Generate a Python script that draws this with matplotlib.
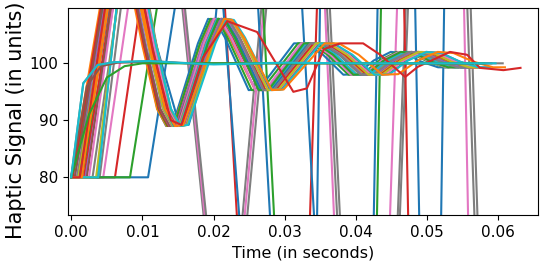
import matplotlib
matplotlib.use("Agg")
import matplotlib.pyplot as plt

# ---------------- data ----------------
# centre path of the main bundle after it leaves 80 (time s, value)
base_t = [0.0065, 0.0085, 0.0110, 0.0130, 0.0143, 0.0153, 0.0190, 0.0205, 0.0215,
          0.0230, 0.0265, 0.0280, 0.0300, 0.0332, 0.0350, 0.0375, 0.0405, 0.0425,
          0.0450, 0.0475, 0.0495, 0.0520, 0.0545, 0.0560]
base_v = [120.0, 119.0, 103.0, 92.0, 89.0, 89.2, 103.5, 107.8, 107.6,
          104.5, 95.3, 95.4, 98.5, 103.5, 103.5, 101.5, 98.0, 98.1,
          100.5, 102.0, 101.8, 100.3, 99.3, 99.3]
PIVOT = 0.0150  # time about which each bundle line is stretched
# time each bundle line leaves 80, its time shift and its time stretch
bundle_leave = [0.0000, 0.0000, 0.0002, 0.0002, 0.0005, 0.0005, 0.0008, 0.0008,
                0.0010, 0.0012, 0.0012, 0.0015, 0.0015, 0.0018, 0.0020, 0.0022,
                0.0025, 0.0030, 0.0035, 0.0038, 0.0015]
bundle_shift = [-0.0010, -0.0009, -0.0008, -0.0006, -0.0005, -0.0004, -0.0002, -0.0001,
                0.0000, 0.0001, 0.0002, 0.0003, 0.0004, 0.0005, 0.0006, 0.0007,
                0.0008, 0.0009, 0.0010, 0.0011, 0.0004]
bundle_stretch = [-0.05, 0.02, -0.03, 0.04, -0.01, 0.05, -0.04, 0.01, 0.03, -0.02,
                  0.00, 0.04, -0.05, 0.02, -0.01, 0.05, 0.03, -0.03, 0.01, 0.04, 0.11]
bundle_colors = ["tab:blue", "tab:orange", "tab:green", "tab:red", "tab:purple",
                 "tab:brown", "tab:pink", "tab:gray", "tab:olive", "tab:cyan",
                 "tab:blue", "tab:orange", "tab:green", "tab:red", "tab:purple",
                 "tab:brown", "tab:pink", "tab:gray", "tab:olive", "tab:cyan",
                 "tab:orange"]

# lines that settle directly to 100
settle_t = [[0.0, 0.0017, 0.0037, 0.0060, 0.0110, 0.0150, 0.0200, 0.0300, 0.0400, 0.0500, 0.0606],
            [0.0, 0.0022, 0.0042, 0.0065, 0.0120, 0.0160, 0.0220, 0.0320, 0.0420, 0.0520, 0.0590],
            [0.0, 0.0025, 0.0050, 0.0075, 0.0100, 0.0200, 0.0300, 0.0400, 0.0500, 0.0580],
            [0.0, 0.0017, 0.0037, 0.0060, 0.0110, 0.0150, 0.0200, 0.0300, 0.0400, 0.0500, 0.0596]]
settle_v = [[80, 96.5, 99.7, 100.2, 100.4, 100.1, 99.9, 100.1, 100.0, 100.0, 100.0],
            [80, 96.0, 99.5, 100.1, 100.3, 100.0, 100.0, 100.0, 100.0, 100.0, 100.0],
            [80, 91.0, 97.5, 99.5, 100.0, 100.0, 100.0, 100.0, 100.0, 100.0],
            [80, 96.5, 99.7, 100.2, 100.4, 100.1, 99.8, 100.1, 100.0, 100.0, 100.0]]
settle_colors = ["tab:gray", "tab:brown", "tab:green", "tab:cyan"]

# lagging slow red line
lag_t = [0.0, 0.0012, 0.0060, 0.0090, 0.0115, 0.0140, 0.0155, 0.0185, 0.0219, 0.0261,
         0.0296, 0.0312, 0.0331, 0.0355, 0.0378, 0.0410, 0.0434, 0.0469, 0.0487, 0.0532,
         0.0556, 0.0574, 0.0607, 0.0631]
lag_v = [80, 80, 120, 118, 102, 90, 89.2, 101, 107.4, 105.5,
         98.3, 95.0, 95.6, 102.5, 103.5, 103.5, 101.5, 97.6, 99.4, 102.0,
         101.5, 99.2, 98.8, 99.2]

# unstable lines with very large swings
wild_t = [
    [0.0, 0.0037, 0.0085, 0.0130, 0.0215, 0.0300, 0.0335, 0.0395, 0.0430, 0.0500, 0.0530, 0.0600],
    [0.0, 0.0045, 0.0100, 0.0132, 0.0217, 0.0300, 0.0330, 0.0390, 0.0425, 0.0495, 0.0535, 0.0580],
    [0.0, 0.0040, 0.0090, 0.0135, 0.0220, 0.0305, 0.0338, 0.0398, 0.0433, 0.0505, 0.0535, 0.0600],
    [0.0, 0.00615, 0.0120, 0.0190, 0.0260, 0.0310, 0.0380, 0.0445, 0.0500],
    [0.0, 0.0108, 0.0175, 0.0195, 0.0270, 0.0335, 0.0365, 0.0460, 0.0520],
    [0.0, 0.00826, 0.0150, 0.0240, 0.0320, 0.0400, 0.0470],
    [0.0, 0.0012, 0.0062, 0.0090, 0.0120, 0.0150, 0.0165, 0.0200, 0.0240, 0.0310, 0.0370, 0.0410, 0.0450],
    [0.0, 0.0010, 0.0050, 0.0100, 0.0250, 0.0300, 0.0370, 0.0510, 0.0540],
]
wild_v = [
    [80, 80, 133, 141.5, 38, 155, 172, 18, -20, 208, 206, -50],
    [80, 80, 127, 142, 37, 150, 186, 13, -11, 248, 218, -73],
    [80, 80, 130, 140, 36, 152, 175, 20, -18, 212, 210, -40],
    [80, 80, 130, 166, 14, -21.5, 240, 256, -100],
    [80, 80, 133, 140, 18, -20, 250, 260, -130],
    [80, 80, 133, 180, -10, -118, 337],
    [80, 80, 120, 119, 103, 90, 89.2, 104, 159, 6, -30, -30, 246],
    [80, 80, 118, 180, 200, 163, 10, -10, 251],
]
wild_colors = ["tab:gray", "tab:pink", "tab:gray", "tab:red", "tab:blue",
               "tab:green", "tab:blue", "tab:blue"]

xticks = [0.00, 0.01, 0.02, 0.03, 0.04, 0.05, 0.06]
yticks = [80, 90, 100]

# ---------------- plot ----------------
fig = plt.figure(figsize=(5.44, 2.68), dpi=100)
ax = fig.add_axes([0.1256, 0.198, 0.8634, 0.771])

for tw, vw, cw in zip(wild_t, wild_v, wild_colors):
    ax.plot(tw, vw, color=cw, lw=1.5)

for s, c, g, col in zip(bundle_leave, bundle_shift, bundle_stretch, bundle_colors):
    tt = [0.0, s] + [b + c + g * (b - PIVOT) for b in base_t]
    vv = [80.0, 80.0] + base_v
    ax.plot(tt, vv, color=col, lw=1.5)

ax.plot(lag_t, lag_v, color="tab:red", lw=1.5)

for ts, vs, cs in zip(settle_t, settle_v, settle_colors):
    ax.plot(ts, vs, color=cs, lw=1.5)

ax.set_xlim(-0.0004, 0.06556)
ax.set_ylim(73.4, 109.65)
ax.set_xticks(xticks)
ax.set_yticks(yticks)
ax.tick_params(labelsize=11)
ax.set_xlabel("Time (in seconds)", fontsize=11.5)
ax.set_ylabel("Haptic Signal (in units)", fontsize=15)
ax.yaxis.set_label_coords(-0.09, 0.457)

fig.savefig("out.png", dpi=100)
